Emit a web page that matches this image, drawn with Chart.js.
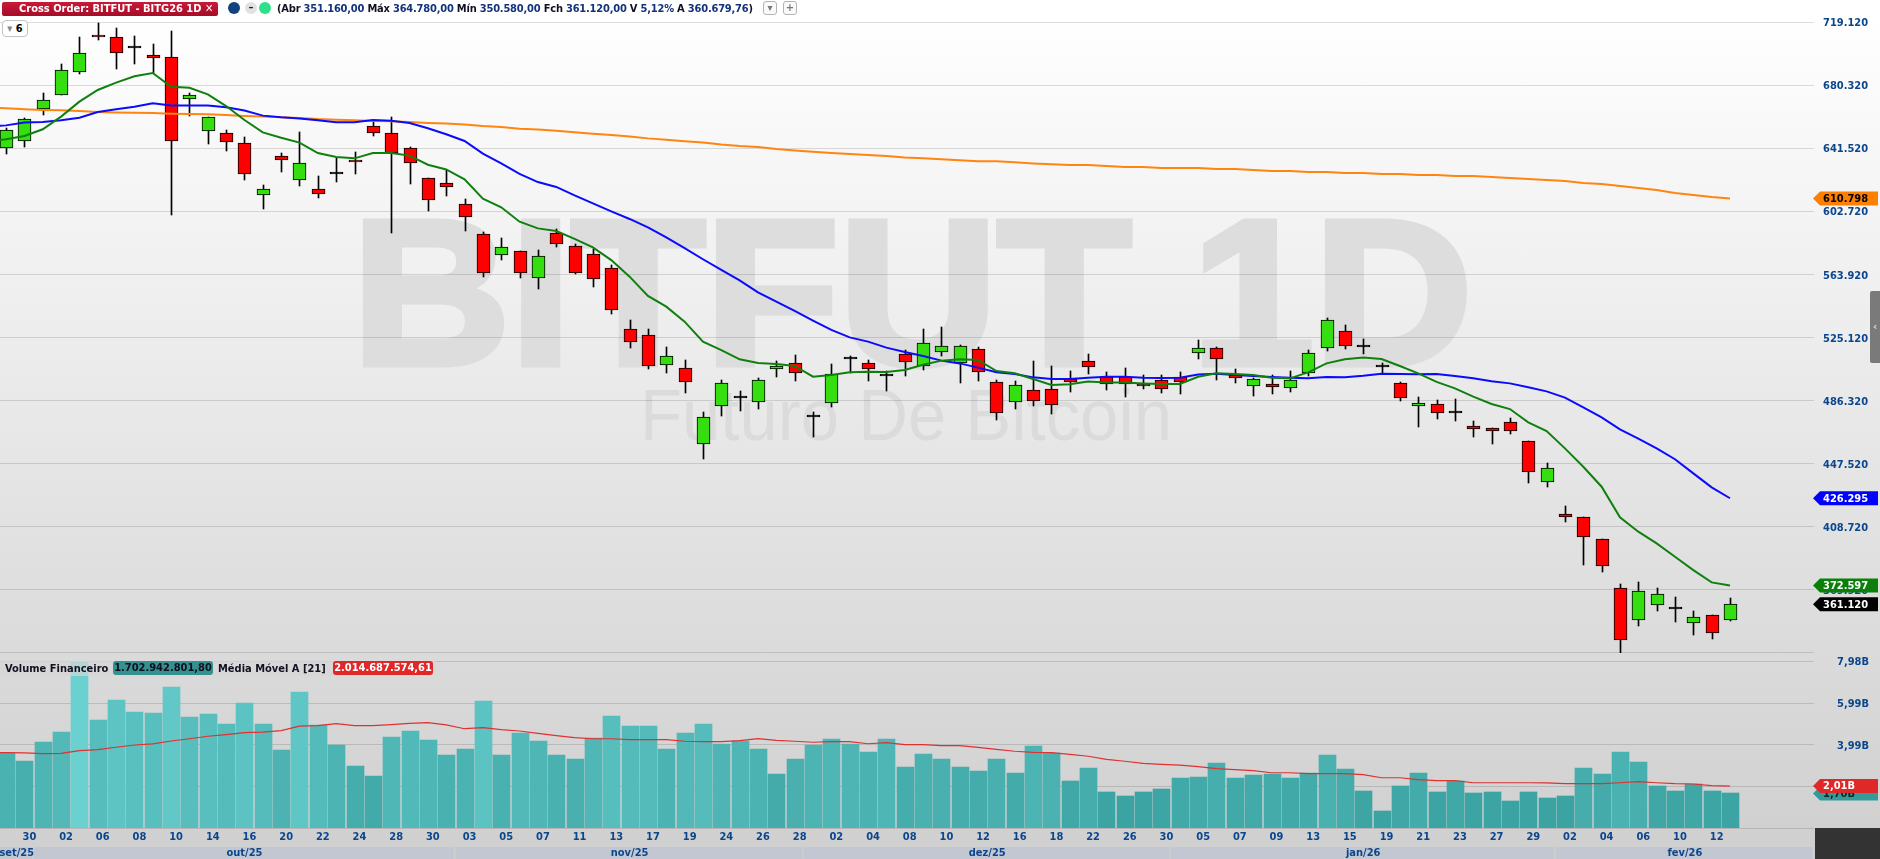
<!DOCTYPE html>
<html lang="pt-BR">
<head>
<meta charset="utf-8">
<title>BITFUT 1D</title>
<script src="https://cdn.jsdelivr.net/npm/chart.js@4/dist/chart.umd.min.js"></script>
<style>
  html, body { margin: 0; padding: 0; width: 1880px; height: 859px; overflow: hidden; }
  body { background: linear-gradient(#ffffff 0, #ffffff 15px, #cfcfcf 859px); font-family: 'DejaVu Sans', sans-serif; position: relative; }
  canvas { position: absolute; left: 0; top: 0; }
  .ov { position: absolute; white-space: nowrap; }
  #order { left: 2px; top: 2px; width: 216px; height: 14px; line-height: 14px; border-radius: 2px; background: linear-gradient(#c91a38, #a50d28); color: #fff; font: bold 11px/14px 'DejaVu Sans Condensed', 'DejaVu Sans', sans-serif; text-indent: 17px; }
  #ohlc { left: 277px; top: 1px; font: bold 11px/15px 'DejaVu Sans Condensed', 'DejaVu Sans', sans-serif; color: #101020; letter-spacing: -0.2px; }
  #ohlc i { font-style: normal; color: #12327a; }
  .dot { width: 12px; height: 12px; border-radius: 50%; top: 2px; text-align: center; font: bold 10px/11px 'DejaVu Sans', sans-serif; }
  .btn { width: 12px; height: 12px; top: 1px; border: 1px solid #b4b4b4; border-radius: 3px; color: #777; font: bold 10px/12px 'DejaVu Sans', sans-serif; text-align: center; background: #fafafa; }
  #six { left: 2px; top: 20px; width: 24px; height: 15px; border: 1px solid #c4c4c4; border-radius: 4px; background: #fff; font: bold 11px/15px 'DejaVu Sans Condensed', 'DejaVu Sans', sans-serif; text-align: center; }
  #volbar { left: 0; top: 661px; width: 436px; height: 15px; background: rgba(214, 214, 214, 0.72); }
  .vl { top: 661px; font: bold 11px/15px 'DejaVu Sans Condensed', 'DejaVu Sans', sans-serif; color: #101020; }
  .vt { height: 14px; border-radius: 3px; line-height: 14px; text-align: center; }
  #corner { left: 1815px; top: 828px; width: 65px; height: 31px; background: #333333; }
  #handle { left: 1870px; top: 291px; width: 10px; height: 72px; background: #7a7a7a; border-radius: 2px 0 0 2px; color: #ddd; font: bold 10px/72px 'DejaVu Sans', sans-serif; text-align: center; }
</style>
</head>
<body>
<canvas id="chart" width="1880" height="859"></canvas>
<div class="ov" id="order">Cross Order: BITFUT - BITG26 1D &#10005;</div>
<div class="ov dot" style="left:228px;background:#12437e"></div>
<div class="ov dot" style="left:245px;background:#e2e2e2;color:#222">&#8211;</div>
<div class="ov dot" style="left:259px;background:#2ee08a"></div>
<div class="ov" id="ohlc">(Abr <i>351.160,00</i> Máx <i>364.780,00</i> Mín <i>350.580,00</i> Fch <i>361.120,00</i> V <i>5,12%</i> A <i>360.679,76</i>)</div>
<div class="ov btn" style="left:763px">&#9662;</div>
<div class="ov btn" style="left:783px">+</div>
<div class="ov" id="six"><span style="color:#888">&#9662;</span> 6</div>
<div class="ov" id="volbar"></div>
<div class="ov vl" style="left:5px">Volume Financeiro</div>
<div class="ov vl vt" style="left:113px;width:100px;top:661px;background:#359090">1.702.942.801,80</div>
<div class="ov vl" style="left:218px">Média Móvel A [21]</div>
<div class="ov vl vt" style="left:333px;width:100px;top:661px;background:#e02828;color:#fff">2.014.687.574,61</div>
<div class="ov" id="corner"></div>
<div class="ov" id="handle">&#8249;</div>
<script>
const axisColor = '#0b468c';
const axisFont = { family: "'DejaVu Sans Condensed', 'DejaVu Sans', sans-serif", size: 11, weight: 'bold' };
const gridColor = 'rgba(0, 0, 0, 0.13)';

const opens = [
  641.7,646.4,665.7,674.7,688.4,711.4,710.0,703.2,699.1,697.7,
  671.8,652.1,651.3,644.7,612.7,636.7,622.0,616.4,625.7,634.3,
  655.2,650.9,641.7,623.2,620.1,607.2,588.7,576.2,578.3,561.7,
  589.4,581.4,576.4,567.8,530.3,526.6,508.1,506.3,459.9,483.3,
  488.0,485.7,506.1,509.7,476.3,484.7,511.8,509.3,501.5,514.9,
  507.9,516.5,509.3,518.0,497.6,485.3,492.7,493.3,499.7,510.6,
  500.9,500.9,496.4,498.9,501.1,515.5,518.6,502.2,495.2,496.4,
  493.9,503.6,518.6,529.0,519.2,507.3,497.0,483.3,484.1,479.0,
  470.6,469.3,473.0,461.3,436.1,416.6,414.6,401.0,370.8,351.2,
  360.4,357.9,349.3,354.2,351.16
];
const closes = [
  652.7,659.5,671.2,689.7,700.1,710.0,700.1,703.2,697.5,646.0,
  674.3,660.8,645.4,626.1,616.4,634.7,632.4,613.4,625.7,633.1,
  650.9,639.0,632.4,609.7,617.7,599.6,565.1,580.7,564.7,575.2,
  583.0,565.1,561.0,542.4,522.3,507.5,513.6,498.1,476.1,497.0,
  488.0,498.9,507.5,503.6,476.3,503.0,511.8,506.1,501.5,510.4,
  521.6,520.2,520.2,503.8,478.6,495.8,486.0,483.5,498.1,506.9,
  496.4,496.4,495.6,493.3,498.1,518.6,512.2,500.5,499.5,494.6,
  498.9,515.5,536.0,520.2,519.2,507.3,488.2,484.7,479.0,479.0,
  469.1,467.5,467.9,442.2,444.7,415.0,402.7,384.8,338.8,369.0,
  367.2,357.9,353.4,343.2,361.12
];
const highs = [
  654.0,660.1,675.5,693.4,710.2,718.6,715.7,710.8,705.9,713.9,
  675.5,661.2,652.7,648.6,619.1,638.6,651.7,624.6,635.9,639.2,
  658.7,660.8,642.7,623.2,628.3,610.3,590.4,586.5,578.7,579.1,
  591.8,582.6,579.7,569.7,536.0,530.3,519.4,511.4,479.4,499.1,
  492.3,500.3,510.6,514.5,479.4,508.9,513.9,511.4,504.8,517.5,
  530.7,531.9,520.8,519.6,499.1,498.7,510.8,507.7,504.6,515.1,
  503.8,506.7,502.2,502.2,504.0,523.7,519.2,505.9,500.5,502.2,
  504.6,517.5,537.0,532.9,524.3,509.7,498.1,488.8,486.6,487.4,
  473.8,469.7,475.5,461.5,447.8,421.5,414.8,401.4,373.5,374.5,
  371.1,365.5,356.9,354.4,364.78
];
const lows = [
  638.2,642.7,662.2,674.7,687.4,708.4,690.5,693.6,688.2,600.6,
  661.8,644.3,640.0,622.2,604.3,627.1,618.5,611.1,620.9,625.9,
  649.5,589.6,619.7,603.1,612.3,590.8,562.7,572.9,561.9,555.1,
  580.9,564.5,556.3,539.7,519.0,505.9,503.6,491.1,450.4,476.9,
  480.0,481.2,500.9,498.5,463.8,482.5,503.2,498.5,492.3,501.5,
  505.2,513.9,497.4,498.5,474.5,481.2,483.1,478.2,491.7,502.8,
  492.9,488.8,493.5,491.3,490.7,512.0,499.1,497.2,489.2,490.5,
  491.7,501.7,517.1,518.4,514.9,503.6,486.2,470.2,475.1,473.8,
  464.0,459.7,465.8,435.9,433.2,411.9,385.2,380.9,330.4,347.7,
  356.9,350.1,342.1,339.9,350.58
];

// moving averages on the price panel; each starts one session before the
// first candle because the lines run off the left edge of the picture
const maGreen = [
  646.0,
  647.2,649.3,653.4,661.2,670.4,677.6,682.1,686.0,688.0,679.6,
  679.0,674.9,667.7,659.1,651.5,648.2,645.2,638.8,636.3,635.5,
  638.8,638.8,637.2,631.6,628.7,622.6,610.7,605.4,596.5,592.4,
  590.8,585.9,580.7,572.9,562.7,550.8,544.2,535.0,522.7,517.5,
  511.8,509.5,508.9,507.7,501.1,502.2,503.8,504.2,504.0,505.2,
  508.5,511.0,511.8,511.4,504.6,503.2,499.7,496.0,496.4,498.1,
  497.6,497.6,497.0,496.6,496.6,501.1,503.2,502.8,502.2,500.5,
  500.1,503.8,509.3,511.8,513.0,512.0,507.7,503.2,497.9,493.9,
  488.8,484.3,481.2,473.0,467.7,457.0,445.7,433.4,414.6,405.7,
  398.5,390.3,382.1,374.5,372.6
];
const maBlue = [
  655.0,
  655.8,657.5,657.9,658.9,660.5,664.0,665.7,667.3,669.4,668.1,
  668.1,668.1,666.9,664.9,661.8,660.8,660.1,658.9,657.7,657.7,
  659.1,658.7,657.3,654.0,650.3,646.2,638.4,632.4,625.9,620.9,
  617.9,612.7,607.8,602.9,598.2,593.0,586.9,580.3,573.4,566.8,
  560.4,553.0,547.3,541.6,535.6,529.9,525.3,522.7,519.0,516.3,
  513.9,511.0,509.3,506.7,503.8,502.8,500.7,499.7,499.7,500.5,
  501.1,501.1,500.5,500.3,500.5,502.4,503.0,502.2,501.5,500.9,
  500.5,500.1,500.9,500.7,501.7,503.0,502.8,502.6,502.8,501.5,
  500.1,498.3,497.0,494.6,492.1,488.2,482.3,476.1,468.7,463.0,
  457.0,450.3,441.6,433.0,426.3
];
const maOrange = [
  666.8,
  666.3,665.7,665.3,665.1,664.6,664.0,663.8,663.6,663.4,663.0,
  662.8,662.6,662.2,661.6,661.2,660.8,660.4,659.7,659.3,658.9,
  658.5,658.3,657.9,657.3,656.9,656.4,655.4,654.8,653.8,653.2,
  652.5,651.5,650.7,649.9,648.9,647.8,647.0,646.0,645.2,644.0,
  643.1,642.5,641.3,640.4,639.6,638.8,638.2,637.6,637.0,636.1,
  635.5,634.9,634.3,633.7,633.7,633.1,632.4,631.8,631.4,631.4,
  630.8,630.2,630.2,629.6,629.6,629.6,629.0,629.0,628.3,627.7,
  627.7,627.1,627.1,626.5,626.5,625.9,625.9,625.3,625.3,624.6,
  624.6,624.0,623.4,622.8,622.2,621.6,620.3,619.7,618.5,617.3,
  616.0,614.2,613.0,611.7,610.8
];

// financial volume in billions and its 21-period average
const volumes = [
  3.60,3.20,4.11,4.59,7.96,5.16,6.12,5.55,5.50,6.75,
  5.31,5.45,4.97,5.98,4.97,3.72,6.51,4.92,3.96,2.96,
  2.48,4.35,4.64,4.20,3.49,3.77,6.08,3.49,4.54,4.16,
  3.49,3.29,4.30,5.36,4.88,4.88,3.77,4.54,4.97,4.01,
  4.16,3.77,2.57,3.29,3.96,4.25,4.01,3.63,4.25,2.91,
  3.53,3.29,2.91,2.72,3.29,2.62,3.92,3.58,2.24,2.86,
  1.71,1.52,1.71,1.85,2.38,2.43,3.10,2.38,2.53,2.57,
  2.38,2.62,3.49,2.81,1.76,0.80,2.00,2.62,1.71,2.24,
  1.66,1.71,1.28,1.71,1.42,1.52,2.86,2.57,3.63,3.15,
  2.00,1.76,2.09,1.76,1.70
];
const volumeMa = [
  3.61,
  3.61,3.60,3.57,3.58,3.71,3.76,3.87,3.98,4.03,4.17,
  4.28,4.40,4.48,4.57,4.60,4.67,4.88,4.91,5.00,4.91,
  4.91,4.96,5.02,5.05,4.94,4.76,4.81,4.72,4.65,4.54,
  4.43,4.33,4.28,4.28,4.24,4.24,4.24,4.16,4.14,4.14,
  4.19,4.28,4.20,4.16,4.11,4.14,4.14,4.04,4.09,4.00,
  4.00,3.95,3.95,3.87,3.77,3.68,3.63,3.61,3.53,3.44,
  3.29,3.20,3.10,3.05,3.01,2.94,2.85,2.80,2.75,2.65,
  2.65,2.61,2.61,2.61,2.56,2.41,2.41,2.32,2.27,2.27,
  2.17,2.17,2.17,2.17,2.16,2.13,2.13,2.13,2.17,2.22,
  2.17,2.13,2.11,2.03,2.01
];

const priceTicks = [719.12, 680.32, 641.52, 602.72, 563.92, 525.12, 486.32, 447.52, 408.72, 369.92, 331.12];
const priceTickLabels = ['719.120', '680.320', '641.520', '602.720', '563.920', '525.120', '486.320', '447.520', '408.720', '369.920', ''];
const volumeTicks = [7.98, 5.99, 3.99, 2.0, 0];
const volumeTickLabels = ['7,98B', '5,99B', '3,99B', '', ''];

// every second session carries a day label
const dayLabels = [
  '30','02','06','08','10','14','16','20','22','24','28','30',
  '03','05','07','11','13','17','19','24','26','28',
  '02','04','08','10','12','16','18','22','26','30',
  '05','07','09','13','15','19','21','23','27','29',
  '02','04','06','10','12'
];
const monthLabels = ['set/25', 'out/25', 'nov/25', 'dez/25', 'jan/26', 'fev/26'];
const monthEdges = [-0.33, 1.5, 24.5, 43.5, 63.5, 84.5, 98.58];

const xy = arr => arr.map((y, x) => ({ x, y }));
const bodyColor = i => closes[i] > opens[i] ? '#35de0e' : closes[i] < opens[i] ? '#ff0000' : '#000000';

function volumeColor(v) {
  const t = Math.min(1, Math.max(0, (v - 1.5) / 6.5));
  const mix = (a, b) => Math.round(a + (b - a) * t);
  return `rgb(${mix(60, 106)}, ${mix(163, 208)}, ${mix(163, 208)})`;
}

function lineSet(label, data, color, axis, width) {
  return {
    type: 'line', label, data: data.map((y, i) => ({ x: i - 1, y })), yAxisID: axis,
    borderColor: color, borderWidth: width, pointRadius: 0,
    tension: 0, order: 0,
  };
}

function drawTag(ctx, y, color, textColor, text) {
  ctx.fillStyle = color;
  ctx.beginPath();
  ctx.moveTo(1813, y);
  ctx.lineTo(1820, y - 7);
  ctx.lineTo(1878, y - 7);
  ctx.lineTo(1878, y + 7);
  ctx.lineTo(1820, y + 7);
  ctx.closePath();
  ctx.fill();
  ctx.fillStyle = textColor;
  ctx.font = "bold 11px 'DejaVu Sans Condensed', 'DejaVu Sans', sans-serif";
  ctx.textAlign = 'left';
  ctx.textBaseline = 'middle';
  ctx.fillText(text, 1823, y + 0.5);
}

// drawn before the grid so the grid lines stay visible across the letters
const watermark = {
  id: 'watermark',
  beforeDraw(chart) {
    const ctx = chart.ctx;
    ctx.save();
    ctx.textAlign = 'left';
    ctx.textBaseline = 'alphabetic';
    ctx.fillStyle = ctx.strokeStyle = '#dddddd';
    ctx.lineJoin = 'miter';
    ctx.lineWidth = 7;
    ctx.font = "bold 206px 'Liberation Sans', sans-serif";
    ctx.save();
    ctx.translate(352, 364);
    ctx.scale(1.064, 1);
    ctx.fillText('BITFUT 1D', 0, 0);
    ctx.strokeText('BITFUT 1D', 0, 0);
    ctx.restore();
    ctx.fillStyle = '#dbdbdb';
    ctx.font = "72px 'Liberation Sans', sans-serif";
    ctx.fillText('Futuro De Bitcoin', 640, 440, 532);
    ctx.restore();
  },
};

// round bar edges to whole pixels so wicks and bodies stay crisp
const snapBars = {
  id: 'snapBars',
  beforeDatasetsDraw(chart) {
    chart.data.datasets.forEach((ds, i) => {
      if (ds.type === 'line') return;
      chart.getDatasetMeta(i).data.forEach(el => {
        el.x = Math.round(el.x) + 0.5;
        el.y = Math.round(el.y);
        el.base = Math.round(el.base);
      });
    });
  },
};

const months = {
  id: 'months',
  afterDraw(chart) {
    const ctx = chart.ctx;
    const x = chart.scales.x;
    ctx.save();
    ctx.font = 'bold ' + axisFont.size + 'px ' + axisFont.family;
    ctx.textAlign = 'center';
    ctx.textBaseline = 'middle';
    monthLabels.forEach((m, i) => {
      const a = Math.max(0, x.getPixelForValue(monthEdges[i]));
      const b = x.getPixelForValue(monthEdges[i + 1]);
      ctx.fillStyle = '#c3c7d1';
      ctx.fillRect(a, 847, b - a - 1.5, 12);
      ctx.fillStyle = axisColor;
      ctx.fillText(m, (a + b) / 2, 853);
    });
    ctx.restore();
  },
};

const tags = {
  id: 'tags',
  afterDraw(chart) {
    const ctx = chart.ctx;
    const yp = chart.scales.yPrice;
    const yv = chart.scales.yVolume;
    const last = a => a[a.length - 1];
    ctx.save();
    drawTag(ctx, yp.getPixelForValue(last(maOrange)), '#ff7f00', '#000', '610.798');
    drawTag(ctx, yp.getPixelForValue(last(maBlue)), '#0000ff', '#fff', '426.295');
    drawTag(ctx, yp.getPixelForValue(last(maGreen)), '#0a800a', '#fff', '372.597');
    drawTag(ctx, yp.getPixelForValue(last(closes)), '#000000', '#fff', '361.120');
    drawTag(ctx, yv.getPixelForValue(last(volumes)) + 1, '#359a9a', '#0a2a2a', '1,70B');
    drawTag(ctx, yv.getPixelForValue(last(volumeMa)), '#e02828', '#fff', '2,01B');
    ctx.restore();
  },
};

const noPadding = s => { s.paddingLeft = s.paddingRight = s.paddingTop = s.paddingBottom = 0; };

new Chart(document.getElementById('chart'), {
  type: 'bar',
  plugins: [watermark, snapBars, months, tags],
  data: {
    datasets: [
      lineSet('Média curta', maGreen, '#0f800f', 'yPrice', 2),
      lineSet('Média média', maBlue, '#0a0aff', 'yPrice', 2),
      lineSet('Média longa', maOrange, '#ff8410', 'yPrice', 2),
      lineSet('Média Móvel A [21]', volumeMa, '#e03030', 'yVolume', 1.2),
      {
        label: 'Corpo',
        data: opens.map((o, x) => ({ x, y: [o, closes[x]] })),
        yAxisID: 'yPrice',
        backgroundColor: opens.map((o, i) => bodyColor(i)),
        borderColor: '#000000',
        borderWidth: 1,
        borderSkipped: false,
        barThickness: 13,
        minBarLength: 2,
        grouped: false,
        order: 1,
      },
      {
        label: 'Pavio',
        data: highs.map((h, x) => ({ x, y: [lows[x], h] })),
        yAxisID: 'yPrice',
        backgroundColor: '#000000',
        barThickness: 1,
        grouped: false,
        order: 2,
      },
      {
        label: 'Volume Financeiro',
        data: xy(volumes),
        yAxisID: 'yVolume',
        backgroundColor: volumes.map(volumeColor),
        barThickness: 17,
        grouped: false,
        order: 3,
      },
    ],
  },
  options: {
    responsive: false,
    devicePixelRatio: 1,
    animation: false,
    events: [],
    layout: { padding: 0 },
    plugins: { legend: { display: false }, tooltip: { enabled: false } },
    scales: {
      x: {
        type: 'linear',
        position: 'bottom',
        offset: false,
        min: -0.33,
        max: 98.58,
        grid: { display: false, drawTicks: false },
        border: { display: false },
        afterBuildTicks: s => { s.ticks = dayLabels.map((d, i) => ({ value: 2 * i + 1 })); },
        afterFit: s => { s.height = 31; noPadding(s); },
        ticks: {
          autoSkip: false,
          maxRotation: 0,
          color: axisColor,
          font: axisFont,
          padding: 3,
          labelOffset: 5,
          callback: (v, i) => dayLabels[i],
        },
      },
      yPrice: {
        type: 'linear',
        position: 'right',
        stack: 'panels',
        stackWeight: 653,
        min: 331.05,
        max: 732.97,
        grid: { color: gridColor, lineWidth: 1, drawTicks: false },
        border: { display: false },
        afterBuildTicks: s => { s.ticks = priceTicks.map(value => ({ value })); },
        afterFit: s => { s.width = 66; noPadding(s); },
        ticks: {
          autoSkip: false,
          color: axisColor,
          font: axisFont,
          padding: 9,
          labelOffset: 1,
          callback: (v, i) => priceTickLabels[i],
        },
      },
      yVolume: {
        type: 'linear',
        position: 'right',
        stack: 'panels',
        stackWeight: 175,
        min: 0,
        max: 8.39,
        grid: { color: gridColor, lineWidth: 1, drawTicks: false },
        border: { display: false },
        afterBuildTicks: s => { s.ticks = volumeTicks.map(value => ({ value })); },
        afterFit: s => { s.width = 66; noPadding(s); },
        ticks: {
          autoSkip: false,
          color: axisColor,
          font: axisFont,
          padding: 23,
          labelOffset: 1,
          callback: (v, i) => volumeTickLabels[i],
        },
      },
    },
  },
});
</script>
</body>
</html>
